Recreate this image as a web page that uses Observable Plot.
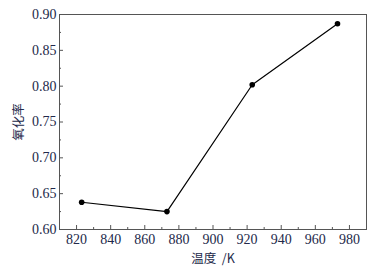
<!DOCTYPE html>
<html>
<head>
<meta charset="utf-8">
<script src="https://cdn.jsdelivr.net/npm/d3@7"></script>
<script src="https://cdn.jsdelivr.net/npm/@observablehq/plot@0.6"></script>
<style>
  html, body { margin: 0; padding: 0; background: #fff; }
  #chart svg text { font-family: "Liberation Serif", "Times New Roman", serif !important; }
  #chart svg text.cjk { font-family: "Noto Sans CJK SC", sans-serif !important; }
</style>
</head>
<body>
<div id="chart"></div>
<script>
const temperature = [823, 873, 923, 973];
const oxidationRate = [0.638, 0.625, 0.802, 0.887];
const xTicks = [820, 840, 860, 880, 900, 920, 940, 960, 980];
const xMinorTicks = [810, 830, 850, 870, 890, 910, 930, 950, 970, 990];
const yTicks = [0.60, 0.65, 0.70, 0.75, 0.80, 0.85, 0.90];
const yMinorTicks = [0.625, 0.675, 0.725, 0.775, 0.825, 0.875];
const xLabel = "温度  /K";
const yLabel = "氧化率";

const data = temperature.map((t, i) => ({t, r: oxidationRate[i]}));
const textColor = "#23294a";

const chart = Plot.plot({
  width: 385,
  height: 272,
  marginLeft: 59,
  marginTop: 14,
  marginRight: 19,
  marginBottom: 43,
  style: {background: "#fff"},
  x: {domain: [810, 990]},
  y: {domain: [0.60, 0.90]},
  marks: [
    Plot.frame({stroke: "#555", strokeWidth: 1}),
    Plot.axisX(xTicks, {anchor: "bottom", tickSize: -4, text: null, label: null, stroke: "#555"}),
    Plot.axisX(xMinorTicks, {anchor: "bottom", tickSize: -2, text: null, label: null, stroke: "#555"}),
    Plot.axisY(yTicks, {anchor: "left", tickSize: -4, text: null, label: null, stroke: "#555"}),
    Plot.axisY(yMinorTicks, {anchor: "left", tickSize: -2, text: null, label: null, stroke: "#555"}),
    Plot.axisX(xTicks, {anchor: "bottom", tickSize: 0, tickPadding: 5, fontSize: 14, fill: textColor,
      label: xLabel, labelAnchor: "center", labelArrow: "none", labelOffset: 33}),
    Plot.axisY(yTicks, {anchor: "left", tickSize: 0, tickPadding: 3, fontSize: 14, fill: textColor,
      tickFormat: d => d.toFixed(2),
      label: yLabel, labelAnchor: "center", labelArrow: "none", labelOffset: 45}),
    Plot.line(data, {x: "t", y: "r", stroke: "#000", strokeWidth: 1.2}),
    Plot.dot(data, {x: "t", y: "r", r: 2.8, fill: "#000"})
  ]
});

chart.querySelectorAll("text").forEach(t => {
  if (/[\u4e00-\u9fff]/.test(t.textContent)) {
    t.classList.add("cjk");
    t.setAttribute("font-size", "12.5");
  }
});
document.getElementById("chart").appendChild(chart);
</script>
</body>
</html>
